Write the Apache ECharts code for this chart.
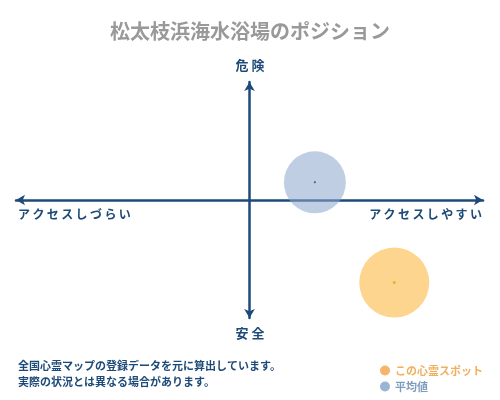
<!DOCTYPE html>
<html><head><meta charset="utf-8">
<script src="https://cdn.jsdelivr.net/npm/echarts@6/dist/echarts.min.js"></script>
<style>html,body{margin:0;padding:0;background:#fff}#c{width:500px;height:400px}</style>
</head><body><div id="c"></div>
<script>
const titleText = '松太枝浜海水浴場のポジション';
const axisLabels = { top: '危 険', bottom: '安 全', left: 'アクセスしづらい', right: 'アクセスしやすい' };
const seriesNames = ['この心霊スポット', '平均値'];
const spotPoint = [6.2, -7.0];
const avgPoint = [2.8, 1.5];
const bubbleSizes = [70, 62];
const footerLines = ['全国心霊マップの登録データを元に算出しています。', '実際の状況とは異なる場合があります。'];

const font = '"Noto Sans CJK JP", sans-serif';
const navy = '#1d4a78';
const spaced = s => s.split('').join('\u2009');
const chart = echarts.init(document.getElementById('c'));
chart.setOption({
  backgroundColor: '#fff',
  animation: false,
  title: { text: titleText, left: 'center', top: 16,
    textStyle: { color: '#999', fontSize: 20, fontWeight: 'bold', fontFamily: font } },
  grid: { left: 16, right: 17, top: 82, bottom: 82 },
  xAxis: { type: 'value', min: -10, max: 10, splitLine: { show: false }, axisTick: { show: false }, axisLabel: { show: false },
    axisLine: { onZero: true, lineStyle: { color: navy, width: 2.5 }, symbol: ['arrow', 'arrow'], symbolSize: [8, 9] } },
  yAxis: { type: 'value', min: -10, max: 10, splitLine: { show: false }, axisTick: { show: false }, axisLabel: { show: false },
    axisLine: { onZero: true, lineStyle: { color: navy, width: 2.5 }, symbol: ['arrow', 'arrow'], symbolSize: [8, 9] } },
  legend: {
    orient: 'vertical', left: 375, top: 360, itemGap: 5, itemWidth: 10, itemHeight: 10, icon: 'circle',
    textStyle: { fontFamily: font, fontSize: 11, fontWeight: 'bold' },
    data: [
      { name: seriesNames[0], itemStyle: { color: '#f4a246' }, textStyle: { color: '#f0b060' } },
      { name: seriesNames[1], itemStyle: { color: '#7ea4c8' }, textStyle: { color: '#7e9cbc' } }
    ]
  },
  graphic: [
    { type: 'text', left: 'center', top: 59, style: { text: axisLabels.top, fill: navy, font: 'bold 13px ' + font } },
    { type: 'text', left: 'center', top: 327, style: { text: axisLabels.bottom, fill: navy, font: 'bold 13px ' + font } },
    { type: 'text', left: 18, top: 208, style: { text: spaced(axisLabels.left), fill: navy, font: 'bold 12px ' + font } },
    { type: 'text', right: 18, top: 208, style: { text: spaced(axisLabels.right), fill: navy, font: 'bold 12px ' + font } },
    { type: 'text', left: 18, top: 360, style: { text: footerLines[0], fill: navy, font: 'bold 11px ' + font } },
    { type: 'text', left: 18, top: 376, style: { text: footerLines[1], fill: navy, font: 'bold 11px ' + font } }
  ],
  series: [
    { name: seriesNames[0], type: 'scatter', data: [spotPoint], symbolSize: bubbleSizes[0],
      itemStyle: { color: 'rgba(252,190,80,0.8)' }, z: 3 },
    { name: seriesNames[1], type: 'scatter', data: [avgPoint], symbolSize: bubbleSizes[1],
      itemStyle: { color: 'rgba(140,168,203,0.7)' }, z: 3 },
    { type: 'scatter', data: [spotPoint], symbolSize: 3, itemStyle: { color: '#f0a020' }, z: 4, silent: true },
    { type: 'scatter', data: [avgPoint], symbolSize: 2, itemStyle: { color: '#1d3a5a' }, z: 4, silent: true }
  ]
});
</script></body></html>
